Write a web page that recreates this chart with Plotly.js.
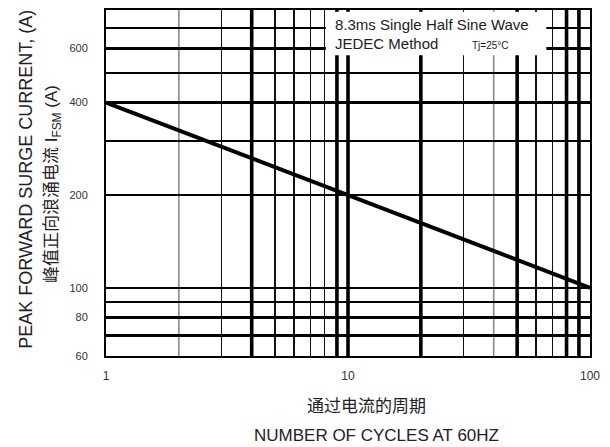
<!DOCTYPE html>
<html>
<head>
<meta charset="utf-8">
<script src="https://cdn.plot.ly/plotly-3.0.1.min.js"></script>
<style>html,body{margin:0;padding:0;background:#fff;}#chart{width:610px;height:447px;}</style>
</head>
<body>
<div id="chart"></div>
<script>
// ---- data ----
const cycles = [1, 10, 100];
const surgeCurrent = [400, 200, 100];

const xLabelVals = [1, 10, 100];
const xLabelText = ['1', '10', '100'];
const xThickGrid = [4, 9, 10, 20, 50, 80, 90];
const xMediumGrid = [3, 5, 6, 7, 8, 30, 60, 70];
const xLightGrid = [2, 40];

const yLabelVals = [60, 80, 100, 200, 400, 600];
const yLabelText = ['60', '80', '100', '200', '400', '600'];
const yExtraGrid = [70, 90, 300, 500, 700];

const noteLine1 = '8.3ms Single Half Sine Wave';
const noteLine2 = 'JEDEC Method';
const noteTemp = 'Tj=25°C';
const yTitleEn = 'PEAK FORWARD SURGE CURRENT, (A)';
const yTitleCn = '峰值正向浪涌电流 I<sub>FSM</sub> (A)';
const xTitleCn = '通过电流的周期';
const xTitleEn = 'NUMBER OF CYCLES AT 60HZ';

// ---- build ----
const FONT = 'Liberation Sans, Arial, Noto Sans CJK SC, sans-serif';
const CJK = 'Liberation Sans, Noto Sans CJK SC, sans-serif';

const trace = {
  x: cycles, y: surgeCurrent, type: 'scatter', mode: 'lines',
  line: {color: '#000', width: 4}, hoverinfo: 'skip'
};

function vline(v, color, width) {
  return {type: 'line', xref: 'x', yref: 'paper', x0: v, x1: v, y0: 0, y1: 1,
          line: {color: color, width: width}, layer: 'below'};
}
const shapes = []
  .concat(xLightGrid.map(v => vline(v, '#8a8a8a', 1.6)))
  .concat(xThickGrid.map(v => vline(v, '#000', 3.6)));
shapes.push({
  type: 'rect', xref: 'x', yref: 'y', x0: 8.1, x1: 66, y0: 570, y1: 790,
  fillcolor: '#fff', line: {width: 0}, layer: 'above'
});

const layout = {
  width: 610, height: 447,
  margin: {l: 106, r: 20, t: 10, b: 91},
  paper_bgcolor: '#fff', plot_bgcolor: '#fff',
  showlegend: false,
  font: {family: FONT, color: '#222'},
  xaxis: {
    type: 'log', range: [0, 2], tickmode: 'array',
    tickvals: xLabelVals, ticktext: xLabelText,
    showgrid: true, gridcolor: '#000', gridwidth: 2,
    showline: true, linecolor: '#000', linewidth: 2, mirror: true,
    ticks: '', ticklabelstandoff: 8, zeroline: false,
    tickfont: {family: FONT, size: 12, color: '#333'},
    minor: {tickmode: 'array', tickvals: xMediumGrid, showgrid: true,
            gridcolor: '#111', gridwidth: 1.8, ticks: ''}
  },
  yaxis: {
    type: 'log', range: [Math.log10(60), Math.log10(800)], tickmode: 'array',
    tickvals: yLabelVals, ticktext: yLabelText,
    showgrid: true, gridcolor: '#000', gridwidth: 2.2,
    showline: true, linecolor: '#000', linewidth: 2, mirror: true,
    ticks: '', ticklabelstandoff: 14, zeroline: false,
    tickfont: {family: FONT, size: 11, color: '#333'},
    minor: {tickmode: 'array', tickvals: yExtraGrid, showgrid: true,
            gridcolor: '#000', gridwidth: 2.2, ticks: ''}
  },
  shapes: shapes,
  annotations: [
    {text: noteLine1, xref: 'paper', yref: 'paper', x: 0.470, y: 0.957,
     xanchor: 'left', yanchor: 'middle', showarrow: false,
     font: {family: FONT, size: 15, color: '#222'}},
    {text: noteLine2, xref: 'paper', yref: 'paper', x: 0.470, y: 0.902,
     xanchor: 'left', yanchor: 'middle', showarrow: false,
     font: {family: FONT, size: 15, color: '#222'}},
    {text: noteTemp, xref: 'paper', yref: 'paper', x: 0.753, y: 0.896,
     xanchor: 'left', yanchor: 'middle', showarrow: false,
     font: {family: FONT, size: 10, color: '#222'}},
    {text: yTitleEn, xref: 'paper', yref: 'paper', x: -0.167, y: 0.51,
     xanchor: 'center', yanchor: 'middle', textangle: -90, showarrow: false,
     font: {family: FONT, size: 18, color: '#222'}},
    {text: yTitleCn, xref: 'paper', yref: 'paper', x: -0.1095, y: 0.497,
     xanchor: 'center', yanchor: 'middle', textangle: -90, showarrow: false,
     font: {family: CJK, size: 17, color: '#222'}},
    {text: xTitleCn, xref: 'paper', yref: 'paper', x: 0.539, y: -0.147,
     xanchor: 'center', yanchor: 'middle', showarrow: false,
     font: {family: CJK, size: 17, color: '#222'}},
    {text: xTitleEn, xref: 'paper', yref: 'paper', x: 0.558, y: -0.231,
     xanchor: 'center', yanchor: 'middle', showarrow: false,
     font: {family: FONT, size: 17, color: '#222'}}
  ]
};

Plotly.newPlot('chart', [trace], layout, {staticPlot: true, displayModeBar: false});
</script>
</body>
</html>
